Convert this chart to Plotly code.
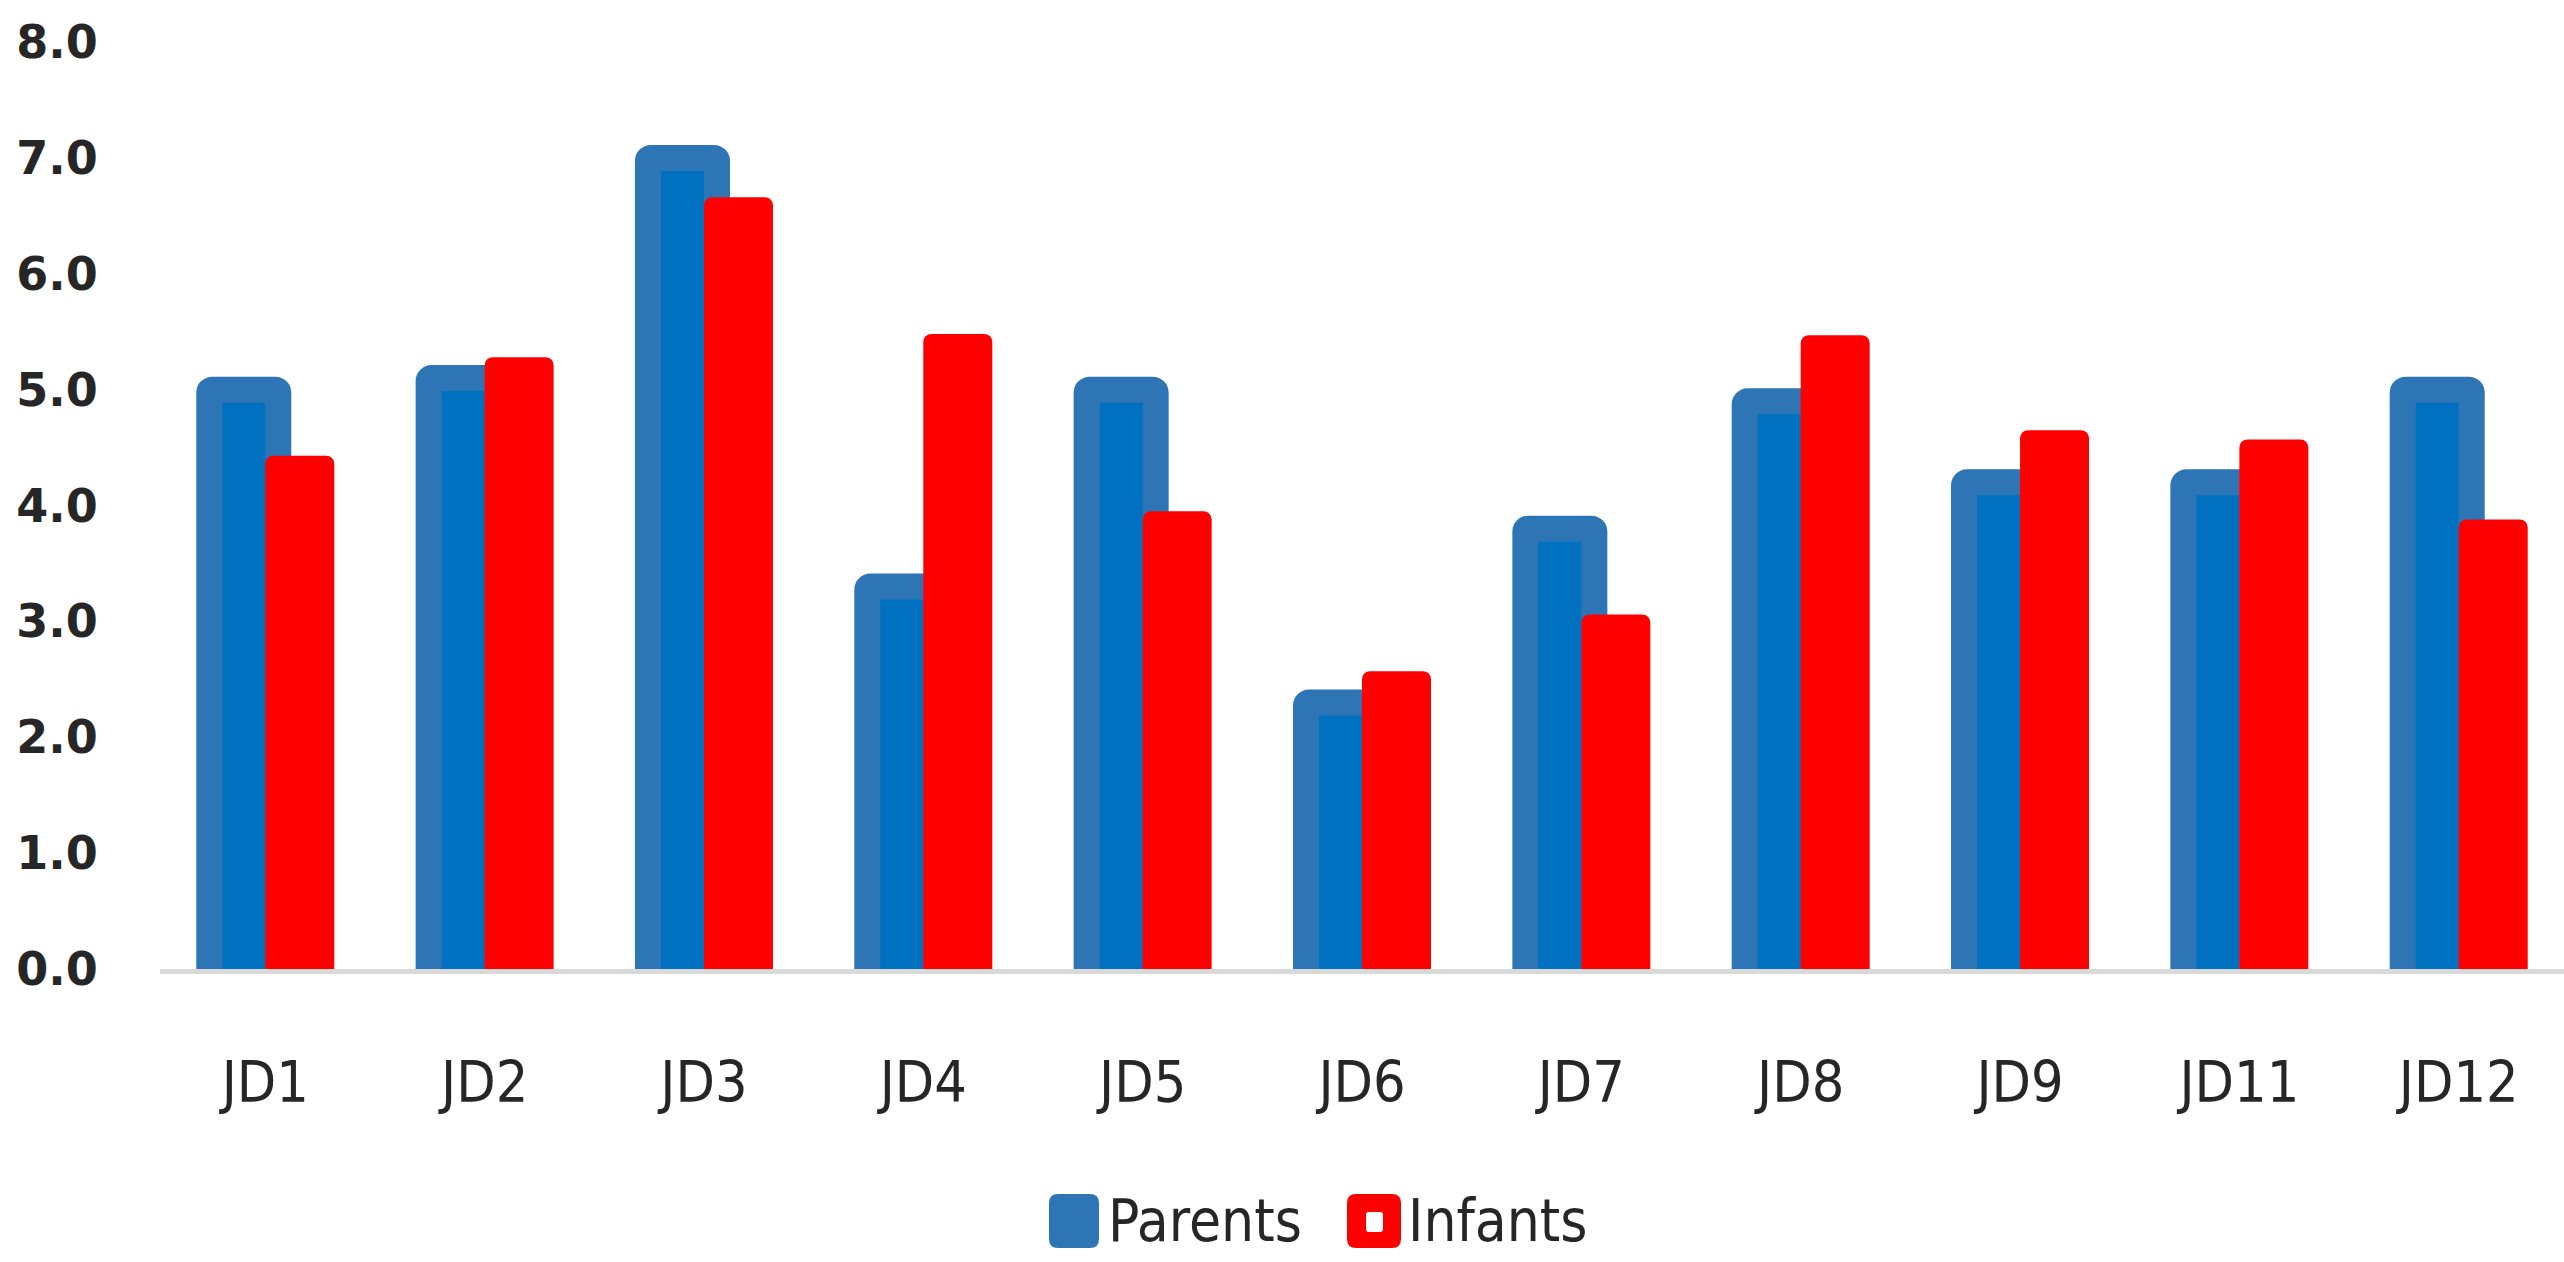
import plotly.graph_objects as go

# Category labels and series values
categories = ["JD1", "JD2", "JD3", "JD4", "JD5", "JD6", "JD7", "JD8", "JD9", "JD11", "JD12"]
parents = [5.0, 5.1, 7.0, 3.3, 5.0, 2.3, 3.8, 4.9, 4.2, 4.2, 5.0]
infants = [4.43, 5.28, 6.66, 5.48, 3.95, 2.57, 3.06, 5.47, 4.65, 4.57, 3.88]
y_ticks = [0, 1, 2, 3, 4, 5, 6, 7, 8]
series_names = ["Parents", "Infants"]

# Page / plot-area geometry in pixels
W, H = 2564, 1262
ML, MR, MT, MB = 160, 0, 42, 293
PW, PH = W - ML - MR, H - MT - MB
X_RANGE = [-0.48, 10.48]
Y_RANGE = [0, 8]
unit_px = PW / (X_RANGE[1] - X_RANGE[0])

BAR_PX = 69          # visible width of each bar
BLUE_LINE = 26       # thickness of the Parents bar outline
bar_w = BAR_PX / unit_px
blue_off = (-BAR_PX + BLUE_LINE / 2) / unit_px
# Parents bars start a little below zero so the outline's bottom edge is
# clipped away by the plot area; their tops still sit at the data values.
sink = 0.15

BLUE_FILL = "#0070C0"
BLUE_EDGE = "#2E75B6"
RED = "#FF0000"
TEXT = "#262626"
NARROW = "Liberation Sans Narrow, Arial Narrow, DejaVu Sans Condensed, sans-serif"

fig = go.Figure()
fig.add_trace(go.Bar(
    x=categories, y=[v + sink for v in parents], base=-sink, name=series_names[0],
    customdata=parents, hovertemplate="%{x}: %{customdata}<extra>Parents</extra>",
    width=bar_w, offset=blue_off,
    marker=dict(color=BLUE_FILL, line=dict(color=BLUE_EDGE, width=BLUE_LINE), cornerradius=3),
    showlegend=False,
))
fig.add_trace(go.Bar(
    x=categories, y=infants, name=series_names[1],
    width=bar_w, offset=0,
    marker=dict(color=RED, line=dict(width=0), cornerradius=8),
    showlegend=False,
))


def px_to_paper(px, py):
    return (px - ML) / PW, (H - MB - py) / PH


def rounded_box(x0, y0, x1, y1, r):
    def P(x, y):
        a, b = px_to_paper(x, y)
        return f"{a:.6f},{b:.6f}"
    return (f"M {P(x0 + r, y0)} L {P(x1 - r, y0)} Q {P(x1, y0)} {P(x1, y0 + r)} "
            f"L {P(x1, y1 - r)} Q {P(x1, y1)} {P(x1 - r, y1)} "
            f"L {P(x0 + r, y1)} Q {P(x0, y1)} {P(x0, y1 - r)} "
            f"L {P(x0, y0 + r)} Q {P(x0, y0)} {P(x0 + r, y0)} Z")


# Legend drawn as swatches plus labels below the axis
legend_items = [
    (series_names[0], BLUE_EDGE, (1049, 1194, 1099, 1248), 1106),
    (series_names[1], RED, (1347, 1194, 1401, 1248), 1406),
]
shapes = []
annotations = []
for label, color, (x0, y0, x1, y1), tx in legend_items:
    shapes.append(dict(type="path", path=rounded_box(x0, y0, x1, y1, 9),
                       xref="paper", yref="paper", fillcolor=color,
                       line=dict(width=0), layer="above"))
    ax, ay = px_to_paper(tx, (y0 + y1) / 2)
    annotations.append(dict(text=label, x=ax, y=ay, xref="paper", yref="paper",
                            xanchor="left", yanchor="middle", showarrow=False,
                            font=dict(family=NARROW, size=58, color=TEXT)))
# small white mark inside the Infants swatch
shapes.append(dict(type="path", path=rounded_box(1366, 1212, 1383, 1232, 3),
                   xref="paper", yref="paper", fillcolor="white",
                   line=dict(width=0), layer="above"))

fig.update_layout(
    width=W, height=H,
    margin=dict(l=ML, r=MR, t=MT, b=MB, pad=0),
    paper_bgcolor="white", plot_bgcolor="white",
    barmode="overlay",
    shapes=shapes, annotations=annotations,
    xaxis=dict(
        range=X_RANGE, showgrid=False, zeroline=False,
        showline=True, linecolor="#D9D9D9", linewidth=5,
        ticks="outside", ticklen=60, tickcolor="rgba(0,0,0,0)",
        tickfont=dict(family=NARROW, size=57, color=TEXT),
    ),
    yaxis=dict(
        range=Y_RANGE, tickvals=y_ticks, ticktext=[f"{v:.1f}" for v in y_ticks],
        showgrid=False, zeroline=False, showline=False,
        ticks="outside", ticklen=52, tickcolor="rgba(0,0,0,0)",
        tickfont=dict(family="DejaVu Sans, Verdana, sans-serif", size=46, color=TEXT, weight="bold"),
    ),
)

fig.write_html("out.html", config={"displayModeBar": False})
